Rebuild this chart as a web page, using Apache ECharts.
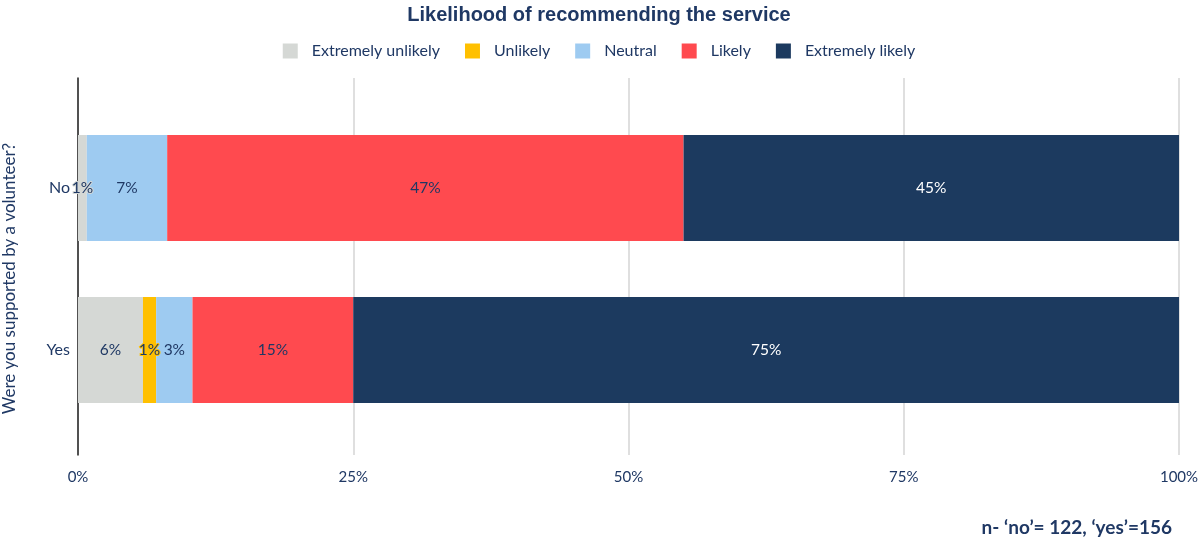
<!DOCTYPE html>
<html>
<head>
<meta charset="utf-8">
<script src="https://cdn.jsdelivr.net/npm/echarts@6/dist/echarts.min.js"></script>
<style>html,body{margin:0;padding:0;background:#fff}#c{width:1198px;height:539px}</style>
</head>
<body>
<div id="c"></div>
<script>
const categories = ['No', 'Yes'];
const seriesNames = ['Extremely unlikely', 'Unlikely', 'Neutral', 'Likely', 'Extremely likely'];
const extremelyUnlikely = [0.8, 5.9];
const unlikely = [0, 1.2];
const neutral = [7.3, 3.3];
const likely = [46.9, 14.6];
const extremelyLikely = [45.0, 75.0];
const xTicks = [0, 25, 50, 75, 100];

const values = [extremelyUnlikely, unlikely, neutral, likely, extremelyLikely];
const colors = ['#d5d8d5', '#ffc000', '#9ecbf1', '#ff4a4f', '#1c3a5f'];
const labelColors = ['#1f3864', '#1f3864', '#1f3864', '#1f3864', '#ffffff'];
const textCol = '#1f3864';
const font = 'Lato, "Open Sans", sans-serif';

const chart = echarts.init(document.getElementById('c'));
chart.setOption({
  animation: false,
  color: colors,
  title: [
    { text: 'Likelihood of recommending the service', left: 'center', top: 0,
      textStyle: { fontFamily: '"Liberation Sans", Arial, sans-serif', fontSize: 20, fontWeight: 'bold', color: textCol } },
    { text: 'n- \u2018no\u2019= 122, \u2018yes\u2019=156', right: 21, top: 513,
      textStyle: { fontFamily: font, fontSize: 19, fontWeight: 'bold', color: textCol } }
  ],
  legend: {
    top: 38, left: 'center', icon: 'rect', itemWidth: 15, itemHeight: 15, itemGap: 25,
    data: seriesNames,
    textStyle: { fontFamily: font, fontSize: 16, color: textCol, padding: [0, 0, 0, 9] }
  },
  grid: [
    { left: 78, right: 19, top: 78, bottom: 84, containLabel: false, outerBoundsMode: 'none' },
    { left: 78, right: 19, top: 107, bottom: 108, containLabel: false, outerBoundsMode: 'none' }
  ],
  xAxis: [
    { type: 'value', gridIndex: 0, min: xTicks[0], max: xTicks[xTicks.length - 1], interval: 25,
      axisLine: { show: false }, axisTick: { show: false },
      axisLabel: { formatter: '{value}%', color: textCol, fontFamily: font, fontSize: 15, margin: 15 },
      splitLine: { show: true, lineStyle: { color: '#d4d4d4', width: 1.5 } } },
    { type: 'value', gridIndex: 1, min: 0, max: 100, show: false, splitLine: { show: false } }
  ],
  yAxis: [
    { type: 'value', gridIndex: 0, min: 0, max: 1,
      axisLine: { show: true, lineStyle: { color: '#222', width: 1.5 } },
      axisTick: { show: false }, axisLabel: { show: false }, splitLine: { show: false },
      name: 'Were you supported by a volunteer?', nameLocation: 'middle', nameGap: 60,
      nameTextStyle: { color: textCol, fontFamily: font, fontSize: 17, padding: [0, 24, 0, 0] } },
    { type: 'category', gridIndex: 1, data: categories, inverse: true,
      axisLine: { show: false }, axisTick: { show: false },
      axisLabel: { color: textCol, fontFamily: font, fontSize: 16, margin: 8 } }
  ],
  series: seriesNames.map((name, i) => ({
    name: name, type: 'bar', stack: 'total', xAxisIndex: 1, yAxisIndex: 1,
    barWidth: 106,
    data: values[i],
    itemStyle: { color: colors[i] },
    label: {
      show: true, position: 'inside', color: labelColors[i], fontFamily: font, fontSize: 15.5,
      textBorderColor: colors[i], textBorderWidth: 2,
      formatter: p => p.value > 0 ? Math.round(p.value) + '%' : ''
    }
  }))
});
</script>
</body>
</html>
